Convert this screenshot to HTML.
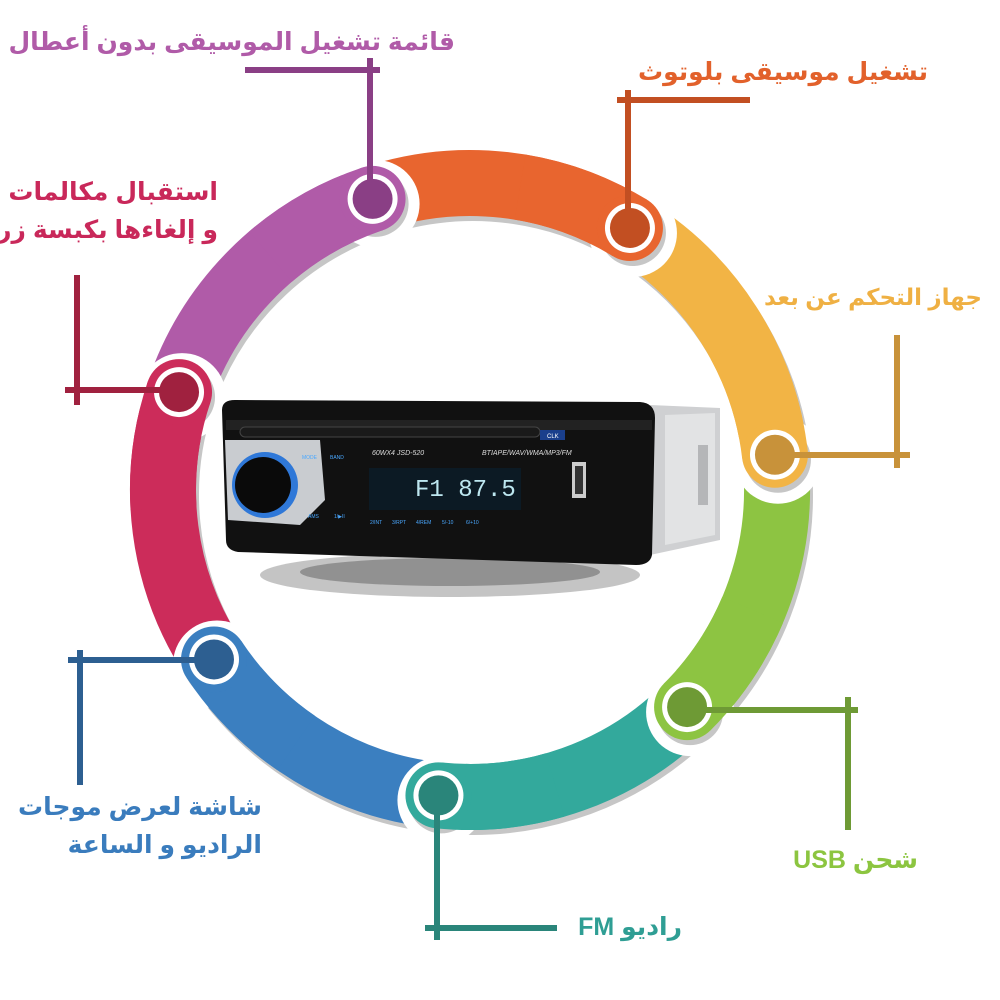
<!DOCTYPE html>
<html><head><meta charset="utf-8"><style>
html,body{margin:0;padding:0;background:#fff;}
body{width:1000px;height:1000px;position:relative;overflow:hidden;font-family:"Liberation Sans","DejaVu Sans",sans-serif;}
.t{position:absolute;font-weight:bold;font-size:25px;direction:rtl;text-align:right;white-space:nowrap;line-height:38px;}
</style></head><body>
<svg width="1000" height="1000" style="position:absolute;left:0;top:0" id="s">
<g id="shadow"></g><g id="arcs"></g><g id="heads"></g><g id="lines"></g>
<!-- car stereo -->
<ellipse cx="450" cy="575" rx="190" ry="22" fill="#555" opacity="0.35"/>
<ellipse cx="450" cy="572" rx="150" ry="14" fill="#333" opacity="0.35"/>
<path d="M650 405 L720 408 L720 540 L650 555 Z" fill="#cfd0d2"/>
<path d="M665 415 L715 413 L715 535 L665 545 Z" fill="#e2e3e4"/>
<rect x="698" y="445" width="10" height="60" fill="#b5b6b8"/>
<path d="M222 410 Q222 400 235 400 L640 402 Q655 403 655 418 L652 555 Q650 565 636 565 L238 552 Q226 550 226 540 Z" fill="#111"/>
<path d="M226 420 L652 420 L652 430 L226 430Z" fill="#222"/>
<rect x="240" y="427" width="300" height="10" rx="5" fill="#1a1a1a" stroke="#444"/>
<path d="M225 440 L320 440 L325 500 L300 525 L228 520 Z" fill="#c9ccd0"/>
<circle cx="265" cy="485" r="33" fill="#1e6fd8" opacity="0.9"/>
<circle cx="263" cy="485" r="28" fill="#0a0a0a"/>
<rect x="369" y="468" width="152" height="42" fill="#0c1a24"/>
<text x="415" y="496" font-family="Liberation Mono" font-size="24" fill="#bde7f0">F1 87.5</text>
<rect x="572" y="462" width="14" height="36" fill="#ccc"/><rect x="575" y="466" width="8" height="28" fill="#333"/>
<text x="372" y="455" font-size="7" fill="#ddd" font-style="italic">60WX4  JSD-520</text>
<text x="482" y="455" font-size="7" fill="#ddd" font-style="italic">BTIAPE/WAV/WMA/MP3/FM</text>
<rect x="540" y="430" width="25" height="10" fill="#1a3f8c"/><text x="547" y="438" font-size="6" fill="#fff">CLK</text>
<g font-size="5" fill="#4aa8ff"><text x="302" y="459">MODE</text><text x="330" y="459">BAND</text><text x="370" y="524">2/INT</text><text x="392" y="524">3/RPT</text><text x="416" y="524">4/REM</text><text x="442" y="524">5/-10</text><text x="466" y="524">6/+10</text><text x="308" y="518">AMS</text><text x="334" y="518">1/▶II</text></g>
</svg>
<div class="t" style="right:545px;top:23px;color:#b05ba8">قائمة تشغيل الموسيقى بدون أعطال</div>
<div class="t" style="right:72px;top:53px;color:#e2612b">تشغيل موسيقى بلوتوث</div>
<div class="t" style="right:18px;top:278px;color:#efb043;font-size:23px;letter-spacing:-0.5px">جهاز التحكم عن بعد</div>
<div class="t" style="right:782px;top:173px;color:#c9285a">استقبال مكالمات<br>و إلغاءها بكبسة زر</div>
<div class="t" style="right:738px;top:788px;color:#3a7cbd">شاشة لعرض موجات<br>الراديو و الساعة</div>
<div class="t" style="right:318px;top:908px;color:#2f9e94">راديو FM</div>
<div class="t" style="right:82px;top:841px;color:#8cc540">شحن USB</div>
<script>
var cx=470,cy=490,R=307,W=66,NS="http://www.w3.org/2000/svg";
var nodes=[
 {a:-108.5,c:"#b05ba8",d:"#8a3f85"},
 {a:-58.6,c:"#e8652f",d:"#c24f22"},
 {a:-6.6,c:"#f2b445",d:"#c8923a"},
 {a:45,c:"#8dc442",d:"#6e9a35"},
 {a:95.9,c:"#33a99c",d:"#2a857a"},
 {a:146.5,c:"#3b7fc0",d:"#2d5f91"},
 {a:198.6,c:"#cc2c5a",d:"#a0213f"}];
function pt(a,r,ox,oy){a*=Math.PI/180;return [cx+(ox||0)+r*Math.cos(a),cy+(oy||0)+r*Math.sin(a)];}
function arc(a1,a2,ox,oy){var p=pt(a1,R,ox,oy),q=pt(a2,R,ox,oy);var large=(a2-a1)>180?1:0;return "M"+p[0]+" "+p[1]+" A"+R+" "+R+" 0 "+large+" 1 "+q[0]+" "+q[1];}
function el(g,t,at){var e=document.createElementNS(NS,t);for(var k in at)e.setAttribute(k,at[k]);document.getElementById(g).appendChild(e);return e;}
for(var i=0;i<7;i++){var n=nodes[i],p=nodes[(i+6)%7];var a1=p.a,a2=n.a;while(a2<a1)a2+=360;
 el("shadow","path",{d:arc(a1+4,a2,3,5),stroke:"#c6c6c6","stroke-width":W,fill:"none"});
 el("arcs","path",{d:arc(a1,a2),stroke:n.c,"stroke-width":W,fill:"none"});}
for(var i=0;i<7;i++){var n=nodes[i];var c=pt(n.a,R);
 el("heads","circle",{cx:c[0]+3,cy:c[1]+5,r:44,fill:"#fff"});
 var cs=pt(n.a,R,3,5);el("heads","circle",{cx:cs[0],cy:cs[1],r:W/2,fill:"#c6c6c6"});
 el("heads","path",{d:arc(n.a-22,n.a),stroke:n.c,"stroke-width":W,fill:"none"});
 el("heads","circle",{cx:c[0],cy:c[1],r:W/2,fill:n.c});
 el("heads","circle",{cx:c[0],cy:c[1],r:25,fill:"#fff"});
 el("heads","circle",{cx:c[0],cy:c[1],r:20,fill:n.d});}
var L=[
 ["#8a3f85",[[245,70,380,70],[370,58,370,200]]],
 ["#c24f22",[[617,100,750,100],[628,90,628,228]]],
 ["#c8923a",[[897,335,897,468],[773,455,910,455]]],
 ["#6e9a35",[[848,697,848,830],[688,710,858,710]]],
 ["#2a857a",[[437,800,437,940],[425,928,557,928]]],
 ["#2d5f91",[[68,660,213,660],[80,650,80,785]]],
 ["#a0213f",[[77,275,77,405],[65,390,172,390]]]];
L.forEach(function(l){l[1].forEach(function(s){el("lines","line",{x1:s[0],y1:s[1],x2:s[2],y2:s[3],stroke:l[0],"stroke-width":6});});});
</script>
</body></html>
